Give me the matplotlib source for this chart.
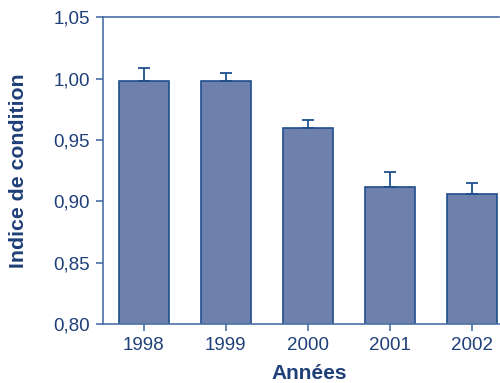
import numpy as np
import matplotlib
matplotlib.rcParams['font.family'] = ['Liberation Sans', 'DejaVu Sans']
import matplotlib.pyplot as plt

# 数据
annees = ['1998', '1999', '2000', '2001', '2002']
indice = [0.998, 0.998, 0.960, 0.912, 0.906]
erreur = [0.011, 0.007, 0.006, 0.012, 0.009]

bleu_texte = '#1f3f78'
bleu_axe = '#4a6fa5'
bleu_barre = '#6e80ac'
bleu_bord = '#1f4e8c'

W, H = 500, 383
fig = plt.figure(figsize=(W / 100, H / 100), dpi=100)
ax = fig.add_axes([102.7 / W, 1 - 324 / H, (499 - 102.7) / W, (324 - 17.3) / H])

x = np.arange(len(annees))
ax.bar(x, indice, width=0.61, color=bleu_barre, edgecolor=bleu_bord, linewidth=1.2,
       yerr=[np.zeros(len(erreur)), erreur],
       error_kw=dict(ecolor=bleu_bord, elinewidth=1.3, capsize=4, capthick=1.3))

ax.set_ylim(0.80, 1.05)
ax.set_xlim(-0.5, 4.33)
ax.set_yticks([0.80, 0.85, 0.90, 0.95, 1.00, 1.05])
ax.set_yticklabels(['0,80', '0,85', '0,90', '0,95', '1,00', '1,05'])
ax.set_xticks(x)
ax.set_xticklabels(annees)

for s in ['left', 'bottom', 'top']:
    ax.spines[s].set_color(bleu_axe)
    ax.spines[s].set_linewidth(1.2)
ax.spines['right'].set_visible(False)

ax.tick_params(axis='both', colors=bleu_axe, length=5, width=1.2, labelsize=13.5,
               labelcolor=bleu_texte)
ax.tick_params(axis='y', pad=4)
ax.tick_params(axis='x', pad=4)

# 轴标题 (按像素位置放置)
fig.text(309 / W, 1 - 379 / H, 'Années', fontsize=15, fontweight='bold',
         color=bleu_texte, ha='center', va='baseline')
fig.text(18.5 / W, 1 - 170.5 / H, 'Indice de condition', fontsize=15.3, fontweight='bold',
         color=bleu_texte, ha='center', va='center', rotation=90)

plt.savefig('out.png', dpi=100)
